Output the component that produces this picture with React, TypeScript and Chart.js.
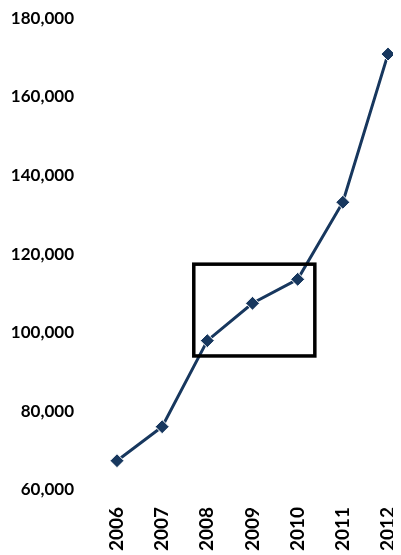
import React, { useEffect, useRef } from "react";
import { Chart, registerables } from "chart.js";

Chart.register(...registerables);

const years = ["2006", "2007", "2008", "2009", "2010", "2011", "2012"];
const values = [67450, 76100, 98000, 107500, 113600, 133200, 170900];
const yMin = 60000;
const yMax = 180000;
const yStep = 20000;
// highlight box, in data units (x = category index, y = value)
const boxX = [1.7, 4.38];
const boxY = [94100, 117450];

const LINE = "#17375E";
const FONT = "Lato, 'Open Sans', sans-serif";

const boxPlugin = {
  id: "highlightBox",
  afterDatasetsDraw(chart: any) {
    const { ctx, scales } = chart;
    const x1 = scales.x.getPixelForValue(boxX[0]);
    const x2 = scales.x.getPixelForValue(boxX[1]);
    const y1 = scales.y.getPixelForValue(boxY[1]);
    const y2 = scales.y.getPixelForValue(boxY[0]);
    ctx.save();
    ctx.strokeStyle = "#000";
    ctx.lineWidth = 3.5;
    ctx.strokeRect(x1, y1, x2 - x1, y2 - y1);
    ctx.restore();
  },
};

export default function App() {
  const ref = useRef<HTMLCanvasElement>(null);
  useEffect(() => {
    if (!ref.current) return;
    const chart = new Chart(ref.current, {
      type: "line",
      data: {
        labels: years,
        datasets: [
          {
            data: values,
            borderColor: LINE,
            backgroundColor: LINE,
            borderWidth: 3,
            pointStyle: "rectRot",
            pointRadius: 7,
            pointBackgroundColor: LINE,
            pointBorderColor: "#ffffff",
            pointBorderWidth: 1,
            tension: 0,
          },
        ],
      },
      options: {
        responsive: false,
        animation: false,
        layout: { padding: { top: 10.3, right: 13, bottom: 0, left: 0 } },
        plugins: { legend: { display: false }, tooltip: { enabled: false } },
        scales: {
          x: {
            offset: false,
            grid: { display: false, drawTicks: false, tickLength: 0 },
            border: { display: false },
            ticks: {
              minRotation: 90,
              maxRotation: 90,
              padding: 17,
              color: "#000",
              font: { family: FONT, weight: "bold", size: 19 },
            },
            afterFit(scale: any) {
              scale.height = 118;
              scale.paddingLeft = 0;
              scale.paddingRight = 0;
            },
          },
          y: {
            min: yMin,
            max: yMax,
            grid: { display: false, drawTicks: false, tickLength: 0 },
            border: { display: false },
            ticks: {
              stepSize: yStep,
              padding: 43,
              color: "#000",
              font: { family: FONT, weight: "bold", size: 17 },
              callback: (v: any) => Number(v).toLocaleString("en-US"),
            },
            afterFit(scale: any) {
              scale.width = 109;
              scale.paddingTop = 0;
              scale.paddingBottom = 0;
            },
          },
        },
      },
      plugins: [boxPlugin],
    });
    return () => chart.destroy();
  }, []);
  return (
    <div style={{ width: 393, height: 547, overflow: "hidden" }}>
      <canvas ref={ref} width={393} height={600} style={{ display: "block" }} />
    </div>
  );
}
